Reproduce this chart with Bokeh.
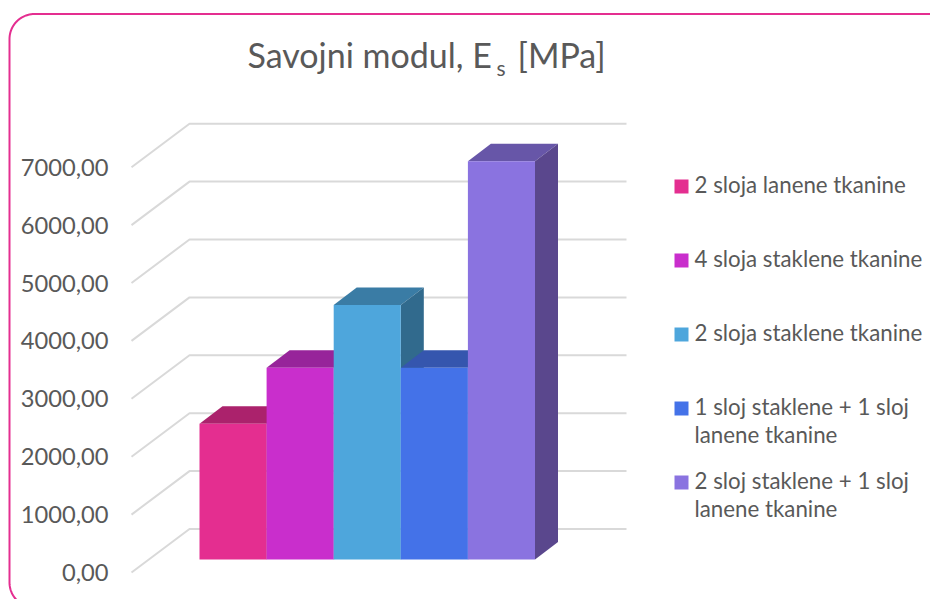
import numpy as np
from bokeh.plotting import figure
from bokeh.models import Range1d, LinearAxis, FixedTicker
from bokeh.core.properties import value
from bokeh.embed import file_html
from bokeh.resources import INLINE

# ---- data
series_names = ["2 sloja lanene tkanine", "4 sloja staklene tkanine", "2 sloja staklene tkanine",
                "1 sloj staklene + 1 sloj\nlanene tkanine", "2 sloj staklene + 1 sloj\nlanene tkanine"]
series_values = [2345, 3310, 4395, 3310, 6880]
front_colors = ["#E42E90", "#C92ECC", "#4EA6DC", "#4472E8", "#8A73E0"]
top_colors = ["#AB226C", "#97249A", "#3A7CA5", "#3556AE", "#6756A8"]
side_colors = ["#8F1C5A", "#7E1E80", "#316A8D", "#2C4890", "#5A478D"]
tick_values = [0, 1000, 2000, 3000, 4000, 5000, 6000, 7000]
tick_labels = ["0,00", "1000,00", "2000,00", "3000,00", "4000,00", "5000,00", "6000,00", "7000,00"]
title_parts = ["Savojni modul, E", "s", "[MPa]"]

# ---- layout (page pixels)
W, H = 930, 599
OX, OY = 0, 0
BAR_W = 67.1
BAR_X0 = 199.0
Y_PER_PX = 1000 / 57.9
Y0_PAGE = 572.0

x_start = -(BAR_X0 - OX) / BAR_W
y_start = -(OY + H - Y0_PAGE) * Y_PER_PX


def px(x):
    return x_start + (np.asarray(x, dtype=float) - OX) / BAR_W


def py(y):
    return (Y0_PAGE - np.asarray(y, dtype=float)) * Y_PER_PX


dx = lambda d: d / BAR_W        # horizontal pixel offset in x units
dy = lambda d: d * Y_PER_PX     # upward pixel offset in value units

p = figure(width=W, height=H, output_backend="svg", toolbar_location=None,
           x_range=Range1d(x_start, x_start + W / BAR_W),
           y_range=Range1d(y_start, y_start + H * Y_PER_PX),
           min_border=0, min_border_left=0, min_border_right=0, min_border_top=0, min_border_bottom=0,
           x_axis_type=None, y_axis_type=None, outline_line_color=None)
p.grid.visible = False
p.background_fill_color = "white"
p.border_fill_color = "white"

# ---- frame with rounded corners
R = 25
a = np.linspace(0, np.pi / 2, 24)
left_bottom_x = 34 - R * np.cos(a)
left_bottom_y = 582 + R * np.sin(a)
left_top_x = 34 - R * np.cos(a)
left_top_y = 38.5 - R * np.sin(a)
right_top_x = 928 + R * np.sin(a)
right_top_y = 38.5 - R * np.cos(a)
frame_x = np.concatenate([left_bottom_x[::-1], left_top_x, right_top_x])
frame_y = np.concatenate([left_bottom_y[::-1], left_top_y, right_top_y])
p.line(px(frame_x), py(frame_y), line_color="#E42E90", line_width=2)

# ---- 3D walls: gridlines
WALL_DX, WALL_DY = 58, 43.5
FRONT_X = 131.0
BACK_RIGHT = 626.0
for v in tick_values:
    p.line([px(FRONT_X), px(FRONT_X + WALL_DX), px(BACK_RIGHT)],
           [v, v + dy(WALL_DY), v + dy(WALL_DY)], line_color="#D9D9D9", line_width=2)

# ---- 3D bars (front plane sits BAR_LIFT px above the axis front plane)
BAR_LIFT = 13.0
DEPTH_DX, DEPTH_DY = 23.0, 17.5
lift = dy(BAR_LIFT)
for i, v in enumerate(series_values):
    l, r = i, i + 1
    b, t = lift, v + lift
    ox, oy = dx(DEPTH_DX), dy(DEPTH_DY)
    p.patch([l, r, r + ox, l + ox], [t, t, t + oy, t + oy], fill_color=top_colors[i], line_color=None)
    p.patch([r, r + ox, r + ox, r], [b, b + oy, t + oy, t], fill_color=side_colors[i], line_color=None)
    p.quad(left=l, right=r, bottom=b, top=t, fill_color=front_colors[i], line_color=None)

# ---- y axis
ax = LinearAxis(ticker=FixedTicker(ticks=tick_values),
                major_label_overrides=dict(zip(tick_values, tick_labels)),
                fixed_location=float(px(FRONT_X)),
                axis_line_color=None, major_tick_line_color=None, minor_tick_line_color=None,
                major_tick_in=0, major_tick_out=0, major_label_standoff=23,
                major_label_text_font="Lato", major_label_text_font_size="23.7px",
                major_label_text_color="#595959")
p.add_layout(ax, "left")

# ---- title
TITLE_FONT = value("Lato")
p.text([px(247)], [py(54)], text=[title_parts[0]], text_font=TITLE_FONT, text_font_size="34px",
       text_color="#595959", text_baseline="alphabetic", text_align="left")
p.text([px(496)], [py(67)], text=[title_parts[1]], text_font=TITLE_FONT, text_font_size="21px",
       text_color="#595959", text_baseline="alphabetic", text_align="left")
p.text([px(517)], [py(54)], text=[title_parts[2]], text_font=TITLE_FONT, text_font_size="34px",
       text_color="#595959", text_baseline="alphabetic", text_align="left")

# ---- legend
LEG_Y = [186, 260, 334, 408, 482]
p.scatter(px([681] * 5), py(LEG_Y), marker="square", size=14, fill_color=front_colors, line_color=None)
p.text(px([694] * 5), py(np.array(LEG_Y) - 16), text=series_names, text_font=TITLE_FONT,
       text_font_size="22.3px", text_color="#595959", text_baseline="top", text_align="left",
       text_line_height=1.05)

open("out.html", "w").write(file_html(p, INLINE))
